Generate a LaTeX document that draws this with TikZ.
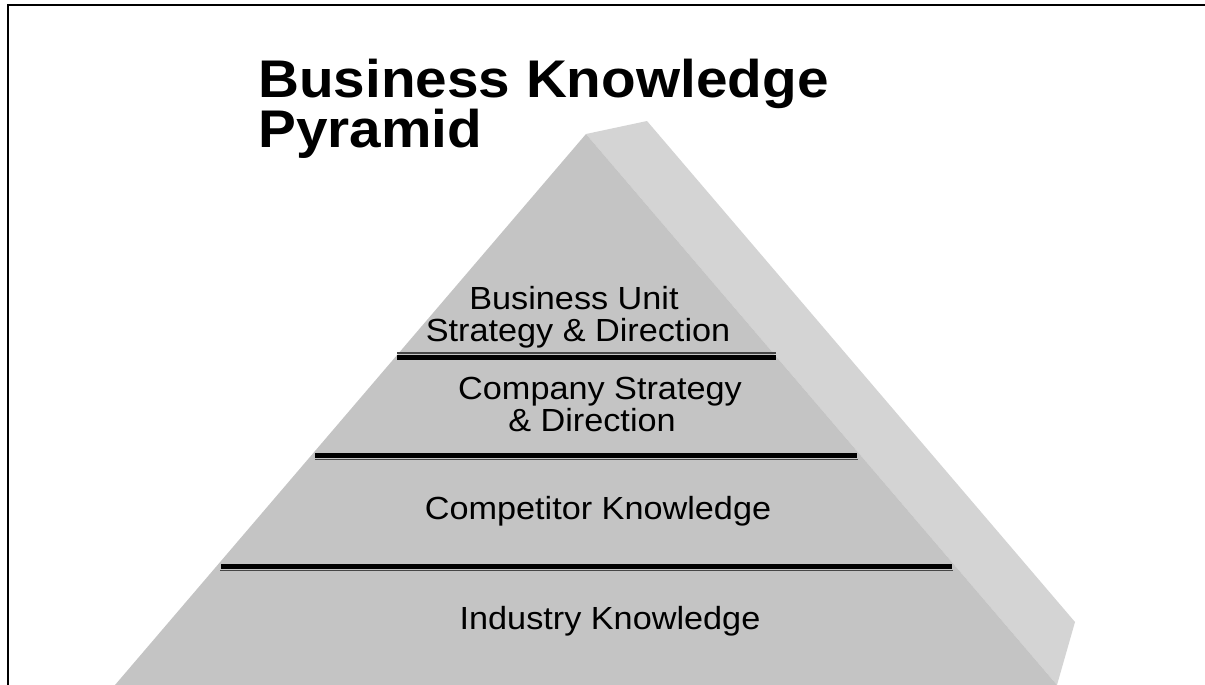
\documentclass[tikz,border=0pt]{standalone}
\usepackage{fontspec}
\setmainfont{Liberation Sans}
\newcommand{\wide}[1]{\scalebox{1.07}[1]{#1}}
\begin{document}
\begin{tikzpicture}[x=1pt,y=-1pt,
  frontface/.style={fill=front,draw=none},
  sideface/.style={fill=side,draw=none},
  thickrule/.style={line width=5pt,black},
  thinrule/.style={line width=1.2pt,rule},
  titletext/.style={font=\bfseries\fontsize{53}{53}\selectfont,inner sep=0pt,anchor=base west},
  layertext/.style={font=\fontsize{32}{36}\selectfont,inner sep=0pt,anchor=base},
  frameline/.style={line width=2.2pt,black}]
\definecolor{front}{RGB}{196,196,196}
\definecolor{side}{RGB}{212,212,212}
\definecolor{rule}{RGB}{70,70,70}
\useasboundingbox (0,0) rectangle (1205,685);
\clip (0,0) rectangle (1205,685);
% frame
\coordinate (fbl) at (8,690);
\coordinate (ftl) at (8,5);
\coordinate (ftr) at (1210,5);
\draw[frameline] (fbl) -- (ftl) -- (ftr);
% pyramid
\coordinate (apex) at (586,134);
\coordinate (top2) at (647,121);
\coordinate (sr) at (1075,622);
\coordinate (br) at (1057,685);
\coordinate (bl) at (115,685);
\fill[sideface] (apex) -- (top2) -- (sr) -- (br) -- cycle;
\fill[frontface] (apex) -- (br) -- (bl) -- cycle;
% layer separators
\coordinate (a1) at (397,357.5); \coordinate (b1) at (776,357.5);
\coordinate (c1) at (397,353); \coordinate (d1) at (776,353);
\coordinate (a2) at (315,455.5); \coordinate (b2) at (857,455.5);
\coordinate (c2) at (315,459.5); \coordinate (d2) at (858,459.5);
\coordinate (a3) at (221,566.5); \coordinate (b3) at (952,566.5);
\coordinate (c3) at (220,570.5); \coordinate (d3) at (953,570.5);
\draw[thinrule] (c1) -- (d1);
\draw[thickrule] (a1) -- (b1);
\draw[thickrule] (a2) -- (b2);
\draw[thinrule] (c2) -- (d2);
\draw[thickrule] (a3) -- (b3);
\draw[thinrule] (c3) -- (d3);
% title
\node[titletext] (t1) at (258,98) {\wide{Business Knowledge}};
\node[titletext] (t2) at (258,147) {\wide{Pyramid}};
% layer labels
\node[layertext] (l1a) at (574,309) {\wide{Business Unit}};
\node[layertext] (l1b) at (578,341) {\wide{Strategy \& Direction}};
\node[layertext] (l2a) at (600,399) {\wide{Company Strategy}};
\node[layertext] (l2b) at (592,431) {\wide{\& Direction}};
\node[layertext] (l3) at (598,519) {\wide{Competitor Knowledge}};
\node[layertext] (l4) at (610,629) {\wide{Industry Knowledge}};
\end{tikzpicture}
\end{document}
